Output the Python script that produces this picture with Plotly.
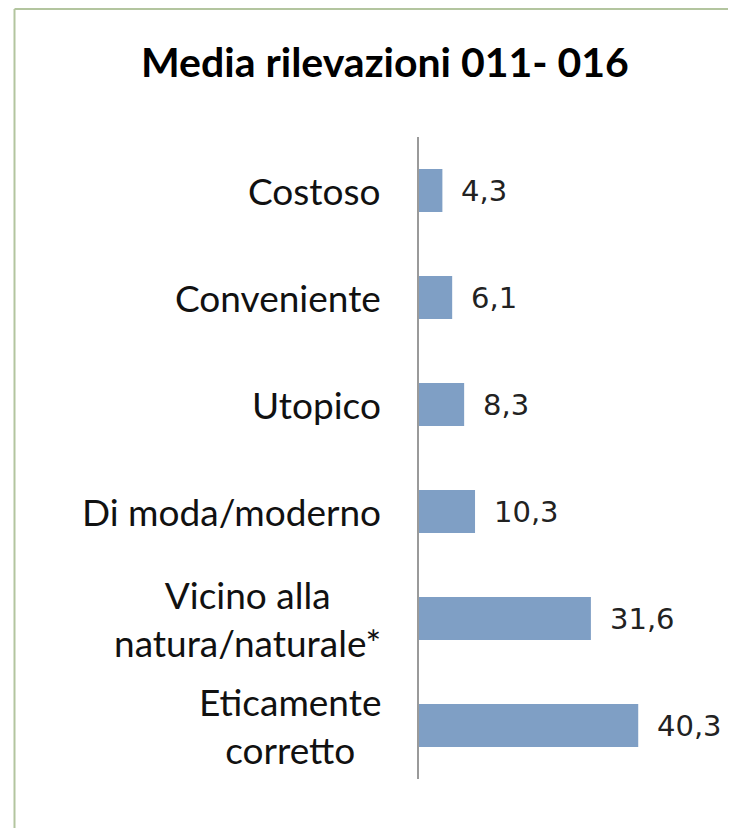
import plotly.graph_objects as go

categories = ["Costoso", "Conveniente", "Utopico", "Di moda/moderno",
              "Vicino alla<br>natura/naturale*", "Eticamente<br>corretto"]
values = [4.3, 6.1, 8.3, 10.3, 31.6, 40.3]
value_labels = ["4,3", "6,1", "8,3", "10,3", "31,6", "40,3"]
title_text = "Media rilevazioni 011- 016"

# page has an 8px body margin: figure coords = page coords - 8
OFF = 8
W, H = 736 - OFF, 828 - OFF
L = 419 - OFF
T = 137 - OFF
R = W - (700 - OFF)
B = H - (779 - OFF)
pw = W - L - R
ph = H - T - B

fig = go.Figure()
fig.add_trace(go.Bar(
    x=values, y=categories, orientation="h",
    marker=dict(color="#7f9fc5", line=dict(width=0)),
    hoverinfo="skip",
))

cat_font = dict(family="Lato, Noto Sans", size=37, color="#111111")
annotations = []
for c, v, t in zip(categories, values, value_labels):
    annotations.append(dict(
        x=v, y=c, xref="x", yref="y", text=t, showarrow=False,
        xanchor="left", yanchor="middle", xshift=17,
        font=dict(family="DejaVu Sans", size=29, color="#222222"),
    ))
    annotations.append(dict(
        x=0, y=c, xref="paper", yref="y", text=c, showarrow=False,
        xanchor="right", yanchor="middle", xshift=-36, align="center",
        font=cat_font,
    ))

annotations.append(dict(
    x=(385 - OFF - L) / pw, y=1 + (T - (62 - OFF)) / ph, xref="paper", yref="paper",
    text="<b>" + title_text + "</b>", showarrow=False,
    xanchor="center", yanchor="middle",
    font=dict(family="Lato, Noto Sans", size=41, color="#000000"),
))

bx = (14.5 - OFF - L) / pw
by = 1 + (T - 1) / ph
shapes = [
    dict(type="line", xref="paper", yref="paper", x0=bx, x1=(W + 5 - L) / pw,
         y0=by, y1=by, line=dict(color="#b3c59f", width=2)),
    dict(type="line", xref="paper", yref="paper", x0=bx, x1=bx,
         y0=by, y1=1 - (H + 5 - T) / ph, line=dict(color="#b3c59f", width=2)),
]

fig.update_layout(
    width=W, height=H,
    margin=dict(l=L, r=R, t=T, b=B, pad=0),
    paper_bgcolor="white", plot_bgcolor="white",
    showlegend=False, bargap=0.6,
    shapes=shapes, annotations=annotations,
    xaxis=dict(range=[0, pw / 5.44], showgrid=False, zeroline=False,
               showticklabels=False, showline=False, fixedrange=True),
    yaxis=dict(categoryorder="array", categoryarray=categories, autorange="reversed",
               showgrid=False, zeroline=False, showticklabels=False,
               showline=True, linecolor="#9a9a9a", linewidth=1.5, ticks=""),
)

fig.write_html("out.html")
